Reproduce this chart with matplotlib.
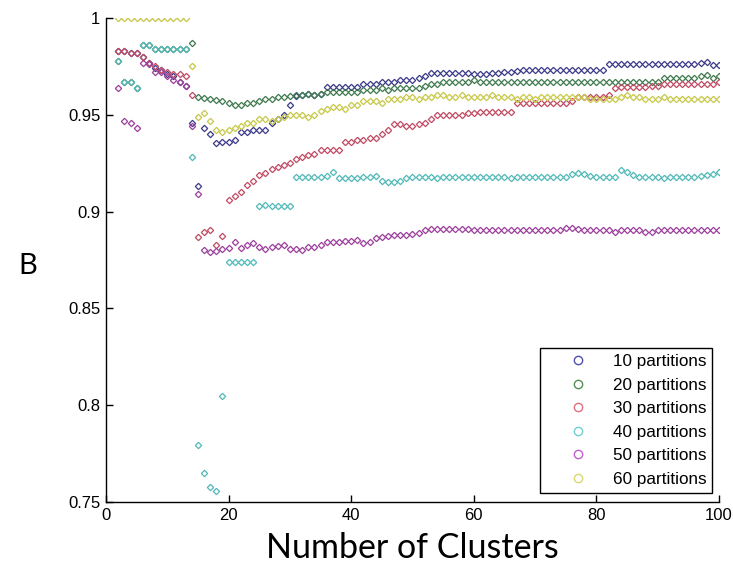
import matplotlib
matplotlib.use("Agg")
import matplotlib.pyplot as plt
from matplotlib.lines import Line2D

# number of clusters on the x axis
clusters = list(range(2, 101))

# B index for each partition count
b10 = [0.983, 0.983, 0.982, 0.982, 0.980, 0.977, 0.974, 0.973, 0.971, 0.970,
       0.967, 0.965, 0.946, 0.913, 0.943, 0.940, 0.9356, 0.936, 0.936, 0.937,
       0.941, 0.941, 0.942, 0.942, 0.942, 0.946, 0.948, 0.950, 0.955, 0.9595,
       0.960, 0.9605, 0.960, 0.961, 0.9645, 0.9645, 0.9645, 0.9645, 0.9645, 0.9645,
       0.966, 0.966, 0.966, 0.967, 0.967, 0.967, 0.968, 0.968, 0.968, 0.969,
       0.970, 0.9715, 0.9715, 0.9715, 0.9715, 0.9715, 0.9715, 0.9715, 0.971, 0.971,
       0.971, 0.9715, 0.9715, 0.972, 0.972, 0.9725, 0.973, 0.973, 0.973, 0.973,
       0.973, 0.973, 0.973, 0.973, 0.973, 0.973, 0.973, 0.973, 0.973, 0.973,
       0.9765, 0.9765, 0.9765, 0.9765, 0.9765, 0.9765, 0.9765, 0.9765, 0.9765, 0.9765,
       0.9765, 0.9765, 0.9765, 0.9765, 0.9765, 0.977, 0.9775, 0.9757, 0.9757]
b20 = [0.978, 0.967, 0.967, 0.964, 0.986, 0.986, 0.984, 0.984, 0.984, 0.984,
       0.984, 0.984, 0.987, 0.959, 0.9585, 0.958, 0.9575, 0.957, 0.956, 0.955,
       0.955, 0.956, 0.956, 0.957, 0.958, 0.958, 0.959, 0.959, 0.9595, 0.960,
       0.960, 0.9605, 0.960, 0.961, 0.962, 0.962, 0.962, 0.962, 0.962, 0.962,
       0.963, 0.963, 0.963, 0.964, 0.963, 0.964, 0.964, 0.964, 0.964, 0.964,
       0.965, 0.966, 0.966, 0.967, 0.967, 0.967, 0.967, 0.967, 0.968, 0.967,
       0.967, 0.967, 0.967, 0.967, 0.967, 0.967, 0.967, 0.967, 0.967, 0.967,
       0.967, 0.967, 0.967, 0.967, 0.967, 0.967, 0.967, 0.967, 0.967, 0.967,
       0.967, 0.967, 0.967, 0.967, 0.967, 0.967, 0.967, 0.967, 0.967, 0.969,
       0.969, 0.969, 0.969, 0.969, 0.969, 0.970, 0.9705, 0.969, 0.970]
b30 = [0.983, 0.983, 0.982, 0.982, 0.980, 0.977, 0.975, 0.973, 0.972, 0.971,
       0.971, 0.970, 0.960, 0.887, 0.8896, 0.8905, 0.883, 0.8874, 0.906, 0.908,
       0.910, 0.914, 0.916, 0.919, 0.920, 0.922, 0.923, 0.924, 0.925, 0.927,
       0.928, 0.929, 0.930, 0.932, 0.932, 0.932, 0.932, 0.936, 0.936, 0.937,
       0.937, 0.938, 0.938, 0.940, 0.942, 0.945, 0.945, 0.944, 0.944, 0.945,
       0.946, 0.948, 0.950, 0.950, 0.950, 0.950, 0.950, 0.951, 0.951, 0.9515,
       0.9515, 0.9515, 0.9515, 0.9515, 0.9515, 0.956, 0.956, 0.956, 0.956, 0.956,
       0.956, 0.956, 0.956, 0.956, 0.957, 0.959, 0.959, 0.959, 0.959, 0.959,
       0.960, 0.964, 0.9645, 0.9645, 0.9645, 0.9645, 0.9645, 0.965, 0.965, 0.966,
       0.966, 0.966, 0.966, 0.966, 0.966, 0.966, 0.966, 0.966, 0.967]
b40 = [0.978, 0.967, 0.967, 0.964, 0.986, 0.986, 0.984, 0.984, 0.984, 0.984,
       0.984, 0.984, 0.928, 0.7795, 0.765, 0.758, 0.7557, 0.805, 0.874, 0.874,
       0.874, 0.874, 0.874, 0.903, 0.9035, 0.903, 0.903, 0.903, 0.903, 0.918,
       0.918, 0.918, 0.918, 0.918, 0.9185, 0.9205, 0.9175, 0.9175, 0.9175, 0.9175,
       0.918, 0.918, 0.9185, 0.916, 0.9155, 0.9155, 0.916, 0.9175, 0.918, 0.918,
       0.918, 0.918, 0.9175, 0.918, 0.918, 0.918, 0.918, 0.918, 0.918, 0.918,
       0.918, 0.918, 0.918, 0.918, 0.9175, 0.918, 0.918, 0.918, 0.918, 0.918,
       0.918, 0.918, 0.918, 0.918, 0.9195, 0.920, 0.9195, 0.9185, 0.918, 0.918,
       0.918, 0.918, 0.9215, 0.9205, 0.919, 0.918, 0.918, 0.918, 0.918, 0.9175,
       0.918, 0.918, 0.918, 0.918, 0.918, 0.9185, 0.919, 0.9195, 0.9205]
b50 = [0.964, 0.947, 0.946, 0.943, 0.977, 0.976, 0.972, 0.972, 0.970, 0.968,
       0.967, 0.965, 0.944, 0.909, 0.880, 0.879, 0.8798, 0.8805, 0.881, 0.8845,
       0.881, 0.883, 0.884, 0.8816, 0.8805, 0.8816, 0.882, 0.883, 0.8805, 0.8805,
       0.880, 0.8815, 0.8815, 0.883, 0.8845, 0.8845, 0.8845, 0.885, 0.885, 0.8855,
       0.884, 0.8845, 0.8865, 0.887, 0.8875, 0.8878, 0.888, 0.888, 0.8885, 0.889,
       0.8905, 0.891, 0.891, 0.891, 0.891, 0.891, 0.891, 0.8908, 0.8905, 0.8905,
       0.8905, 0.8905, 0.8905, 0.8905, 0.8905, 0.8905, 0.8905, 0.8905, 0.8905, 0.8905,
       0.8905, 0.8905, 0.8905, 0.8915, 0.8915, 0.891, 0.8905, 0.8905, 0.8905, 0.8905,
       0.8905, 0.8895, 0.8905, 0.8905, 0.8905, 0.8905, 0.8895, 0.8895, 0.8905, 0.8905,
       0.8905, 0.8905, 0.8905, 0.8905, 0.8905, 0.8905, 0.8905, 0.8905, 0.8905]
b60 = [1.0, 1.0, 1.0, 1.0, 1.0, 1.0, 1.0, 1.0, 1.0, 1.0,
       1.0, 1.0, 0.975, 0.949, 0.951, 0.947, 0.942, 0.941, 0.942, 0.943,
       0.944, 0.946, 0.946, 0.948, 0.948, 0.947, 0.948, 0.949, 0.950, 0.950,
       0.950, 0.949, 0.950, 0.952, 0.953, 0.954, 0.954, 0.953, 0.955, 0.955,
       0.957, 0.957, 0.957, 0.956, 0.958, 0.958, 0.958, 0.959, 0.959, 0.958,
       0.959, 0.959, 0.960, 0.960, 0.959, 0.959, 0.960, 0.959, 0.959, 0.959,
       0.959, 0.960, 0.959, 0.959, 0.959, 0.958, 0.959, 0.959, 0.958, 0.959,
       0.959, 0.959, 0.959, 0.959, 0.959, 0.959, 0.959, 0.958, 0.958, 0.958,
       0.958, 0.958, 0.959, 0.960, 0.959, 0.959, 0.958, 0.958, 0.958, 0.959,
       0.958, 0.958, 0.958, 0.958, 0.958, 0.958, 0.958, 0.958, 0.958]

labels = ["10 partitions", "20 partitions", "30 partitions",
          "40 partitions", "50 partitions", "60 partitions"]
series = [b10, b20, b30, b40, b50, b60]
colors = ["#3a3a8a", "#3e7a4e", "#c24a63", "#4fb8b8", "#9c3e9c", "#c8c848"]
legend_colors = ["#5050b0", "#509050", "#e07080", "#70d0d0", "#c060d0", "#d8d870"]

xticks = [0, 20, 40, 60, 80, 100]
yticks = [0.75, 0.8, 0.85, 0.9, 0.95, 1.0]
ytick_labels = ["0.75", "0.8", "0.85", "0.9", "0.95", "1"]

fig = plt.figure(figsize=(7.33, 5.70), dpi=100)
ax = fig.add_axes([0.1446, 0.1193, 0.8363, 0.8491])

for values, color in zip(series, colors):
    ax.plot(clusters, values, linestyle="none", marker="D", markersize=3.2,
            markerfacecolor="none", markeredgecolor=color,
            markeredgewidth=0.9)

ax.set_xlim(0, 100)
ax.set_ylim(0.75, 1.0)
ax.set_xticks(xticks)
ax.set_yticks(yticks)
ax.set_yticklabels(ytick_labels)

tick_font = ["Liberation Sans Narrow", "Liberation Sans", "DejaVu Sans"]
for lab in ax.get_xticklabels() + ax.get_yticklabels():
    lab.set_family(tick_font)
    lab.set_fontsize(12)
ax.tick_params(direction="in", length=5, width=1, pad=4, colors="black")

ax.spines["top"].set_visible(False)
ax.spines["right"].set_visible(False)
ax.spines["left"].set_linewidth(1)
ax.spines["bottom"].set_linewidth(1)

ax.set_xlabel("Number of Clusters", fontsize=24.5, family=["Lato", "DejaVu Sans"])
ax.xaxis.set_label_coords(0.5, -0.062)
ax.set_ylabel("B", fontsize=21, family=["Lato", "DejaVu Sans"], rotation=0,
              va="center", ha="center")
ax.yaxis.set_label_coords(-0.127, 0.4876)

handles = [Line2D([], [], linestyle="none", marker="o", markersize=6,
                  markerfacecolor="none", markeredgecolor=c,
                  markeredgewidth=1.0) for c in legend_colors]
leg = ax.legend(handles, labels, loc="lower right",
                bbox_to_anchor=(0.989, 0.019), borderaxespad=0,
                fancybox=False, framealpha=1, edgecolor="black",
                prop={"family": tick_font, "size": 12.3},
                borderpad=0.35, handlelength=3.8, handletextpad=0.1,
                labelspacing=0.5)
leg.get_frame().set_linewidth(1)

fig.savefig("out.png", dpi=100)
